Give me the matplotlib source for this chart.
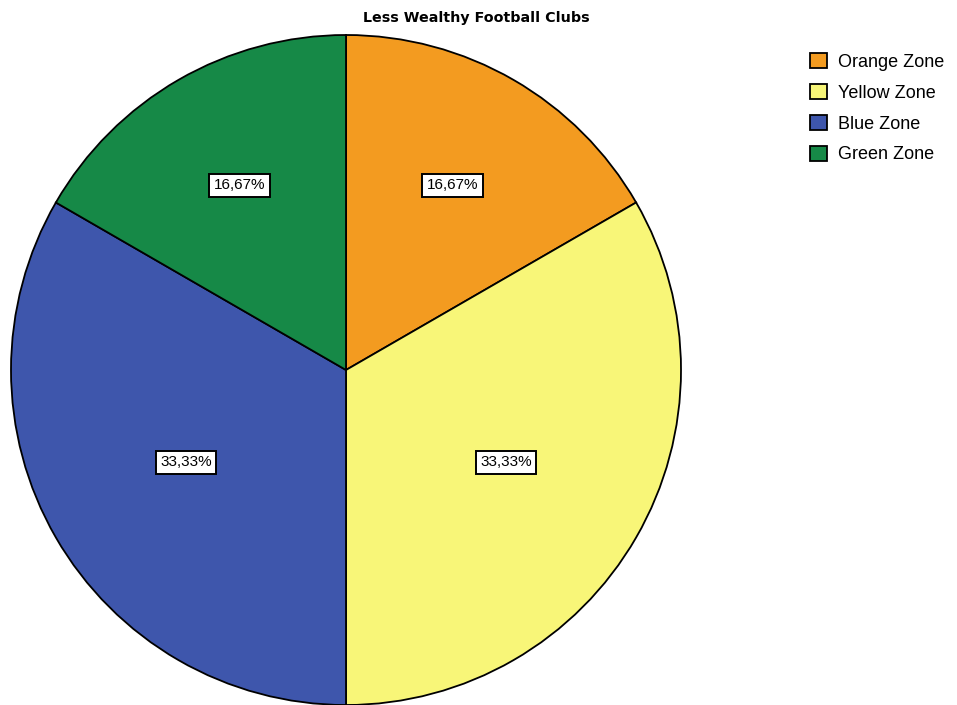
import numpy as np
from matplotlib import pyplot as plt

# Клубы по зонам
zones = ["Orange Zone", "Yellow Zone", "Blue Zone", "Green Zone"]
counts = [1, 2, 2, 1]
colors = ["#F39B20", "#F8F678", "#3E56AC", "#168947"]

fig = plt.figure(figsize=(9.57, 7.05), dpi=100)
ax = fig.add_axes([11 / 957, 0, 670 / 957, 670 / 705])

wedges, _ = ax.pie(counts, colors=colors, startangle=90, counterclock=False,
                   radius=1, wedgeprops=dict(edgecolor="black", linewidth=1.3))
ax.set_xlim(-1, 1)
ax.set_ylim(-1, 1)
ax.set_aspect("equal")

# Подписи процентов в центроидах секторов
total = sum(counts)
for w, c in zip(wedges, counts):
    mid = np.deg2rad((w.theta1 + w.theta2) / 2)
    half = np.deg2rad((w.theta2 - w.theta1) / 2)
    r = 2 * np.sin(half) / (3 * half)
    pct = f"{100 * c / total:.2f}%".replace(".", ",")
    ax.text(r * np.cos(mid), r * np.sin(mid), pct, ha="center", va="center",
            fontsize=11, fontfamily="Liberation Sans",
            bbox=dict(boxstyle="square,pad=0.3", fc="white", ec="black", lw=1.4))

fig.text(476 / 957, 1 - 18 / 705, "Less Wealthy Football Clubs", ha="center", va="center",
         fontsize=10.3, fontweight="bold", fontfamily="DejaVu Sans")

fig.legend(wedges, zones, loc="upper left", bbox_to_anchor=(794 / 957, 1 - 37 / 705),
           frameon=False, handlelength=0.94, handleheight=0.89, handletextpad=0.61,
           labelspacing=0.73, prop=dict(family="Liberation Sans", size=13))

fig.savefig("out.png", dpi=100)
